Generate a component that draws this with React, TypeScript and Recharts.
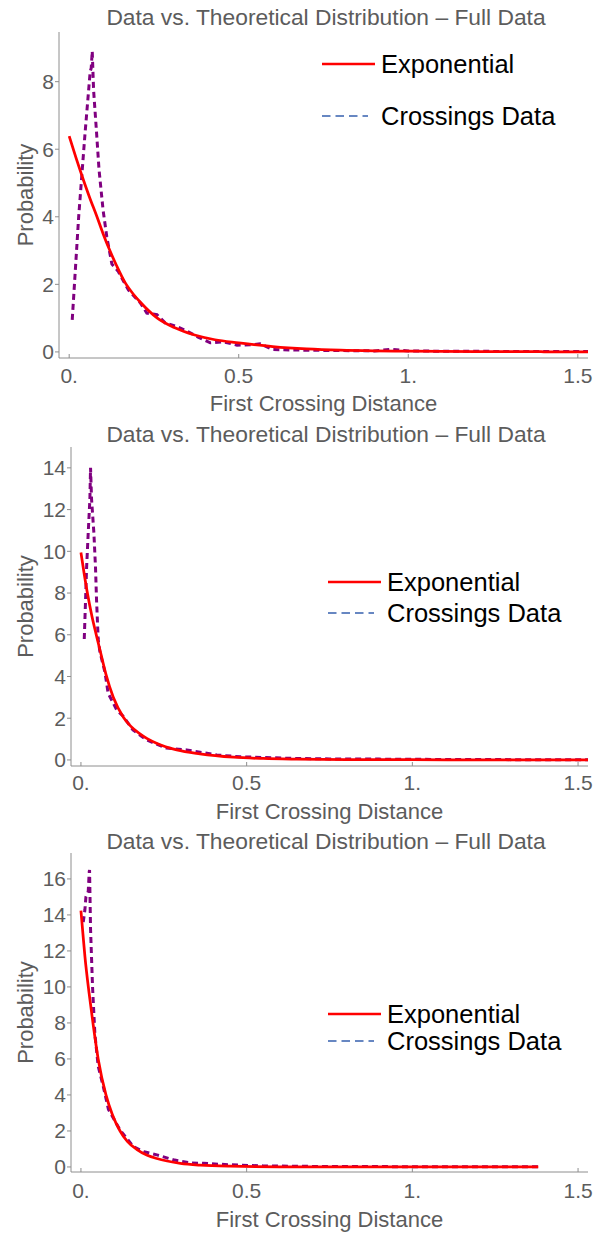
import { Legend, Line, LineChart, XAxis, YAxis } from 'recharts';

const FONT = '"Liberation Sans", Arial, Helvetica, sans-serif';
const TEXT_GRAY = '#5c5c5c';
const AXIS_GRAY = '#8e8e8e';
const RED = '#ff0000';
const PURPLE = '#800080';
const LEGEND_BLUE = '#6787c2';

const titleText = 'Data vs. Theoretical Distribution \u2013 Full Data';
const xAxisTitle = 'First Crossing Distance';
const yAxisTitle = 'Probability';
const seriesNames = ['Exponential', 'Crossings Data'];

const xTicks = [0, 0.5, 1, 1.5];
const xTickLabels = ['0.', '0.5', '1.', '1.5'];

// panel 1
const yTicks1 = [0, 2, 4, 6, 8];
const expX1 = [0, 0.02, 0.04, 0.06, 0.082, 0.1, 0.12, 0.14, 0.165, 0.19, 0.21, 0.26, 0.31, 0.37, 0.43, 0.5, 0.6, 0.7, 0.8, 0.9, 1.0, 1.2, 1.4, 1.53];
const expY1 = [6.39, 5.75, 5.15, 4.58, 4.0, 3.5, 3.0, 2.55, 2.05, 1.7, 1.47, 1.0, 0.72, 0.5, 0.36, 0.27, 0.16, 0.09, 0.05, 0.03, 0.02, 0.01, 0.005, 0.003];
const dataX1 = [0.009, 0.028, 0.047, 0.062, 0.065, 0.068, 0.072, 0.08, 0.088, 0.1, 0.111, 0.126, 0.145, 0.16, 0.175, 0.21, 0.229, 0.259, 0.283, 0.32, 0.35, 0.38, 0.416, 0.455, 0.495, 0.534, 0.563, 0.6, 0.65, 0.7, 0.8, 0.9, 0.95, 1.0, 1.1, 1.2, 1.3, 1.4, 1.53];
const dataY1 = [0.95, 4.0, 6.5, 8.3, 8.4, 8.9, 7.75, 6.6, 5.4, 4.2, 3.4, 2.6, 2.38, 2.1, 1.83, 1.45, 1.15, 1.1, 0.86, 0.74, 0.6, 0.44, 0.27, 0.3, 0.2, 0.21, 0.24, 0.07, 0.06, 0.05, 0.04, 0.03, 0.08, 0.03, 0.02, 0.02, 0.01, 0.01, 0.01];

// panel 2
const yTicks2 = [0, 2, 4, 6, 8, 10, 12, 14];
const expX2 = [0, 0.01, 0.02, 0.033, 0.047, 0.06, 0.0755, 0.0976, 0.128, 0.15, 0.178, 0.2, 0.228, 0.289, 0.359, 0.46, 0.55, 0.65, 0.8, 1.0, 1.2, 1.4, 1.53];
const expY2 = [9.94, 8.9, 7.95, 6.9, 5.95, 5.1, 4.1, 3.0, 2.05, 1.62, 1.25, 1.02, 0.8, 0.48, 0.29, 0.13, 0.07, 0.04, 0.02, 0.01, 0.005, 0.002, 0.001];
const dataX2 = [0.01, 0.014, 0.017, 0.022, 0.027, 0.029, 0.032, 0.039, 0.044, 0.047, 0.052, 0.057, 0.0725, 0.082, 0.108, 0.128, 0.157, 0.198, 0.258, 0.319, 0.41, 0.48, 0.55, 0.65, 0.75, 0.9, 1.0, 1.2, 1.4, 1.53];
const dataY2 = [5.8, 7.7, 9.2, 10.9, 12.5, 14.0, 12.5, 10.9, 9.2, 7.7, 5.8, 5.2, 4.2, 3.2, 2.4, 2.08, 1.44, 0.96, 0.57, 0.48, 0.24, 0.15, 0.12, 0.07, 0.05, 0.04, 0.03, 0.02, 0.01, 0.01];

// panel 3
const yTicks3 = [0, 2, 4, 6, 8, 10, 12, 14, 16];
const expX3 = [0, 0.006, 0.012, 0.025, 0.037, 0.052, 0.0755, 0.095, 0.118, 0.14, 0.168, 0.2, 0.229, 0.26, 0.3, 0.36, 0.45, 0.6, 0.8, 1.0, 1.2, 1.38];
const expY3 = [14.24, 12.95, 11.7, 9.6, 7.9, 6.0, 4.0, 2.9, 2.0, 1.42, 0.98, 0.65, 0.47, 0.33, 0.2, 0.1, 0.04, 0.01, 0.003, 0.001, 0, 0];
const dataX3 = [0.007, 0.012, 0.015, 0.022, 0.025, 0.026, 0.029, 0.035, 0.042, 0.052, 0.067, 0.083, 0.118, 0.158, 0.19, 0.229, 0.279, 0.33, 0.37, 0.45, 0.55, 0.7, 0.9, 1.1, 1.38];
const dataY3 = [13.6, 14.3, 15.0, 15.3, 16.4, 16.5, 13.2, 10.0, 7.4, 5.6, 4.5, 3.2, 2.05, 1.13, 0.85, 0.67, 0.4, 0.22, 0.2, 0.12, 0.06, 0.03, 0.02, 0.01, 0.01];

const toPoints = (xs: number[], ys: number[]) => xs.map((x, i) => ({ x, y: ys[i] }));

const panels = [
  {
    top: 0, height: 420, plotTop: 32, plotLeft: 59, yDomain: [-0.18, 9.47], yTicks: yTicks1,
    exp: toPoints(expX1, expY1), data: toPoints(dataX1, dataY1),
    titleTop: 6, tickDy: 25, xLabelOffset: 9, legendLeft: 322, legendTop: 38, legendGap: 52,
  },
  {
    top: 420, height: 408, plotTop: 27, plotLeft: 71, yDomain: [-0.29, 15.0], yTicks: yTicks2,
    exp: toPoints(expX2, expY2), data: toPoints(dataX2, dataY2),
    titleTop: 3, tickDy: 24, xLabelOffset: 9.5, legendLeft: 328, legendTop: 146.5, legendGap: 31,
  },
  {
    top: 828, height: 406, plotTop: 25, plotLeft: 71, yDomain: [-0.28, 17.44], yTicks: yTicks3,
    exp: toPoints(expX3, expY3), data: toPoints(dataX3, dataY3),
    titleTop: 2, tickDy: 26, xLabelOffset: 7, legendLeft: 328, legendTop: 172.5, legendGap: 27,
  },
];

function XTick({ x, y, payload, dy }: any) {
  const label = xTickLabels[xTicks.indexOf(payload.value)] ?? String(payload.value);
  return (
    <g>
      <line x1={x} x2={x} y1={y} y2={y - 4} stroke={AXIS_GRAY} strokeWidth={1} />
      <text x={x} y={y + dy} textAnchor="middle" fill={TEXT_GRAY} fontSize={21} fontFamily={FONT}>
        {label}
      </text>
    </g>
  );
}

function LegendBox({ gap }: { gap: number }) {
  const rows = [
    { name: seriesNames[0], color: RED, len: 53, width: 2.5, dash: undefined },
    { name: seriesNames[1], color: LEGEND_BLUE, len: 46, width: 2, dash: '8.5 5' },
  ];
  return (
    <div style={{ fontFamily: FONT, fontSize: 25.5, color: '#000', whiteSpace: 'nowrap' }}>
      {rows.map((row) => (
        <div key={row.name} style={{ display: 'flex', alignItems: 'center', height: gap }}>
          <svg width={59} height={8} style={{ display: 'block' }}>
            <line x1={0} x2={row.len} y1={4} y2={4} stroke={row.color} strokeWidth={row.width} strokeDasharray={row.dash} />
          </svg>
          <span style={{ lineHeight: '25px' }}>{row.name}</span>
        </div>
      ))}
    </div>
  );
}

function Panel({ cfg }: { cfg: (typeof panels)[number] }) {
  return (
    <div style={{ position: 'absolute', left: 0, top: cfg.top, width: 594, height: cfg.height }}>
      <div
        style={{
          position: 'absolute', left: 58, top: cfg.titleTop, width: 536, textAlign: 'center',
          fontFamily: FONT, fontSize: 22.8, lineHeight: '22px', color: TEXT_GRAY, whiteSpace: 'nowrap',
        }}
      >
        {titleText}
      </div>
      <LineChart width={594} height={cfg.height} margin={{ top: cfg.plotTop, right: 6, bottom: 0, left: 0 }}>
        <XAxis
          type="number"
          dataKey="x"
          domain={[-0.03, 1.53]}
          ticks={xTicks}
          interval={0}
          allowDataOverflow
          height={62}
          tickSize={0}
          tickMargin={0}
          stroke={AXIS_GRAY}
          tick={(props: any) => <XTick {...props} dy={cfg.tickDy} />}
          label={{
            value: xAxisTitle,
            position: 'insideBottom',
            offset: cfg.xLabelOffset,
            style: { fill: TEXT_GRAY, fontSize: 22, fontFamily: FONT },
          }}
        />
        <YAxis
          type="number"
          domain={cfg.yDomain}
          ticks={cfg.yTicks}
          interval={0}
          allowDataOverflow
          width={cfg.plotLeft}
          tickSize={4}
          tickMargin={1}
          stroke={AXIS_GRAY}
          tick={{ fill: TEXT_GRAY, fontSize: 21, fontFamily: FONT }}
          label={{
            value: yAxisTitle,
            angle: -90,
            position: 'insideLeft',
            offset: 25,
            style: { fill: TEXT_GRAY, fontSize: 22, fontFamily: FONT, textAnchor: 'middle' },
          }}
        />
        <Legend
          layout="vertical"
          align="center"
          verticalAlign="middle"
          wrapperStyle={{ left: cfg.legendLeft, top: cfg.legendTop, width: 'auto', height: 'auto' }}
          content={() => <LegendBox gap={cfg.legendGap} />}
        />
        <Line
          data={cfg.data}
          dataKey="y"
          type="linear"
          name={seriesNames[1]}
          stroke={PURPLE}
          strokeWidth={3}
          strokeDasharray="6 4"
          dot={false}
          activeDot={false}
          isAnimationActive={false}
        />
        <Line
          data={cfg.exp}
          dataKey="y"
          type="monotone"
          name={seriesNames[0]}
          stroke={RED}
          strokeWidth={2.75}
          dot={false}
          activeDot={false}
          isAnimationActive={false}
        />
      </LineChart>
    </div>
  );
}

export default function App() {
  return (
    <div style={{ position: 'absolute', left: 0, top: 0, width: 594, height: 1234, background: '#fff' }}>
      {panels.map((cfg) => (
        <Panel key={cfg.top} cfg={cfg} />
      ))}
    </div>
  );
}
